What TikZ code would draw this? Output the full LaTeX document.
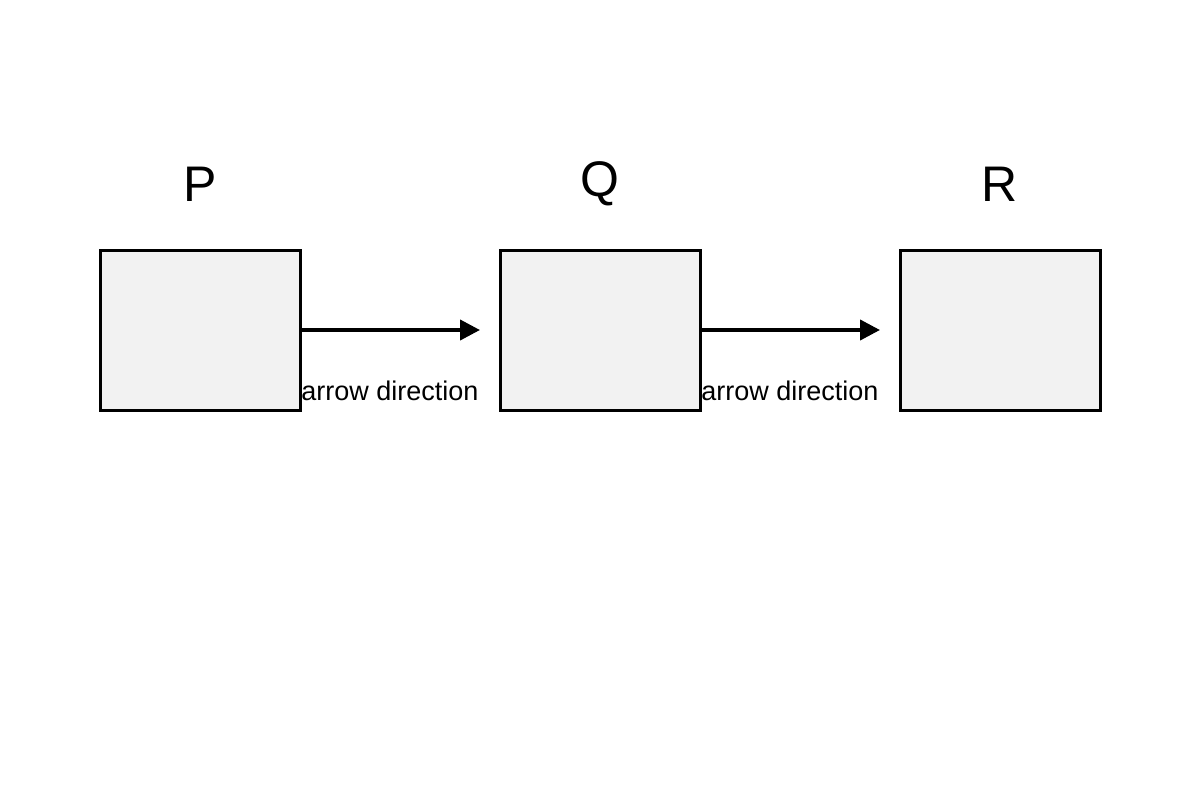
\documentclass[tikz,border=0pt]{standalone}
\usepackage{fontspec}
\setmainfont{Liberation Sans}
\usetikzlibrary{arrows.meta}
\begin{document}
\begin{tikzpicture}[x=1pt,y=-1pt,
  box/.style={draw=black,fill={rgb,255:red,242;green,242;blue,242},line width=3pt,minimum width=200pt,minimum height=160pt,inner sep=0pt},
  ttl/.style={font=\fontsize{50}{50}\selectfont},
  lbl/.style={font=\fontsize{27}{27}\selectfont},
  arr/.style={line width=4pt,-{Triangle[length=20pt,width=20pt]}}]
\useasboundingbox (0,0) rectangle (1200,800);
\node[box] (p) at (200,330) {};
\node[box] (q) at (600,330) {};
\node[box] (r) at (1000,330) {};
\node[ttl] (tp) at (200,184) {P};
\node[ttl] (tq) at (600,184) {Q};
\node[ttl] (tr) at (1000,184) {R};
\coordinate (e1) at (480,330);
\coordinate (e2) at (880,330);
\draw[arr] (p.east) -- (e1);
\draw[arr] (q.east) -- (e2);
\node[lbl] (l1) at (390,391) {arrow direction};
\node[lbl] (l2) at (790,391) {arrow direction};
\end{tikzpicture}
\end{document}
